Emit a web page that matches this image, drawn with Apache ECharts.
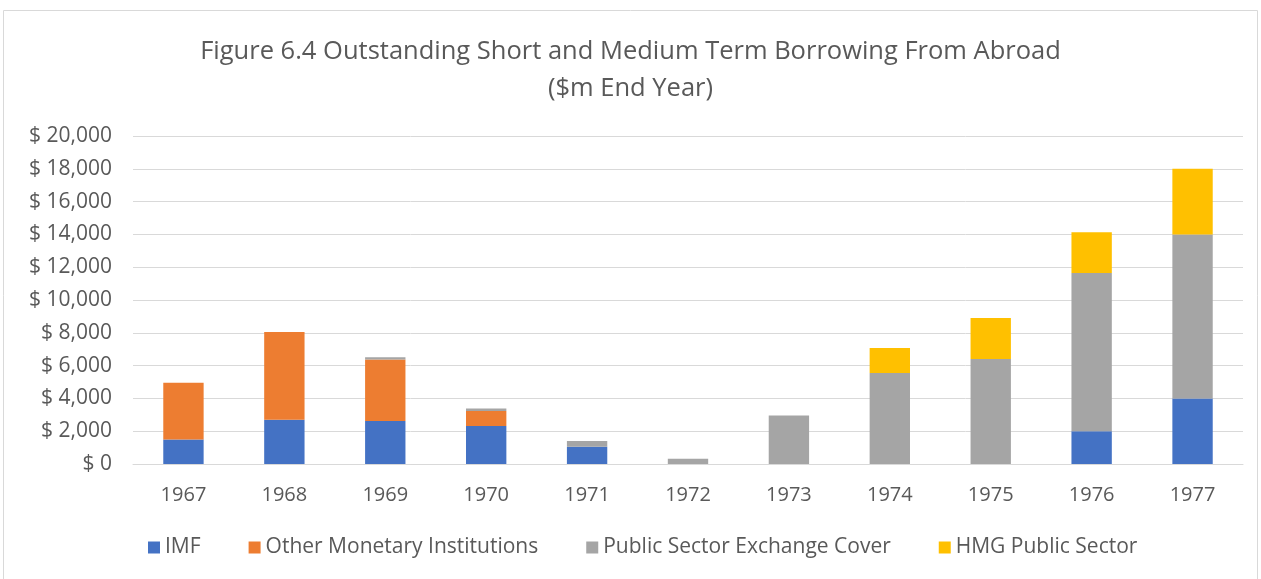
<!DOCTYPE html>
<html><head><meta charset="utf-8">
<script src="https://cdn.jsdelivr.net/npm/echarts@6/dist/echarts.min.js"></script>
<style>html,body{margin:0;padding:0;background:#fff;}#c{width:1261px;height:579px;}</style>
</head><body><div id="c"></div>
<script>
const years = ['1967','1968','1969','1970','1971','1972','1973','1974','1975','1976','1977'];
const imf = [1500, 2700, 2620, 2320, 1050, 0, 0, 0, 0, 2000, 4000];
const otherMonetary = [3450, 5350, 3750, 910, 0, 0, 0, 0, 0, 0, 0];
const publicSectorCover = [0, 0, 140, 150, 350, 320, 2950, 5550, 6400, 9650, 10000];
const hmgPublic = [0, 0, 0, 0, 0, 0, 0, 1520, 2500, 2480, 4000];
const seriesNames = ['IMF', 'Other Monetary Institutions', 'Public Sector Exchange Cover', 'HMG Public Sector'];
const colors = ['#4472C4', '#ED7D31', '#A5A5A5', '#FFC000'];
const FONT = 'Open Sans';

const chart = echarts.init(document.getElementById('c'));
const mk = (name, data, color) => ({
  name, type: 'bar', stack: 'total', data, barWidth: '40%',
  itemStyle: { color }, emphasis: { disabled: true }
});
chart.setOption({
  animation: false,
  color: colors,
  textStyle: { fontFamily: FONT },
  graphic: [{ type: 'rect', shape: { x: 3.5, y: 10.5, width: 1254, height: 580 }, style: { fill: 'none', stroke: '#d9d9d9', lineWidth: 1 }, silent: true }],
  title: {
    text: 'Figure 6.4 Outstanding Short and Medium Term Borrowing From Abroad\n($m End Year)',
    left: 'center', top: 28,
    textStyle: { fontFamily: FONT, fontSize: 25.5, fontWeight: 'normal', color: '#595959', lineHeight: 37 }
  },
  legend: {
    bottom: 16, left: 143, itemWidth: 12, itemHeight: 12, itemGap: 48,
    icon: 'rect',
    textStyle: { fontFamily: FONT, fontSize: 21, color: '#595959' },
    data: seriesNames
  },
  grid: { left: 133, right: 18, top: 136, bottom: 115 },
  xAxis: {
    type: 'category', data: years,
    axisLine: { lineStyle: { color: '#d9d9d9', width: 1 } },
    axisTick: { show: false },
    axisLabel: { fontFamily: FONT, fontSize: 20, color: '#595959', margin: 21 }
  },
  yAxis: {
    type: 'value', min: 0, max: 20000, interval: 2000,
    axisLine: { show: false }, axisTick: { show: false },
    splitLine: { lineStyle: { color: '#d9d9d9', width: 1 } },
    axisLabel: {
      fontFamily: FONT, fontSize: 21, color: '#595959', margin: 21,
      formatter: v => '$ ' + v.toLocaleString('en-US')
    }
  },
  series: [
    mk(seriesNames[0], imf, colors[0]),
    mk(seriesNames[1], otherMonetary, colors[1]),
    mk(seriesNames[2], publicSectorCover, colors[2]),
    mk(seriesNames[3], hmgPublic, colors[3])
  ]
});
</script></body></html>
